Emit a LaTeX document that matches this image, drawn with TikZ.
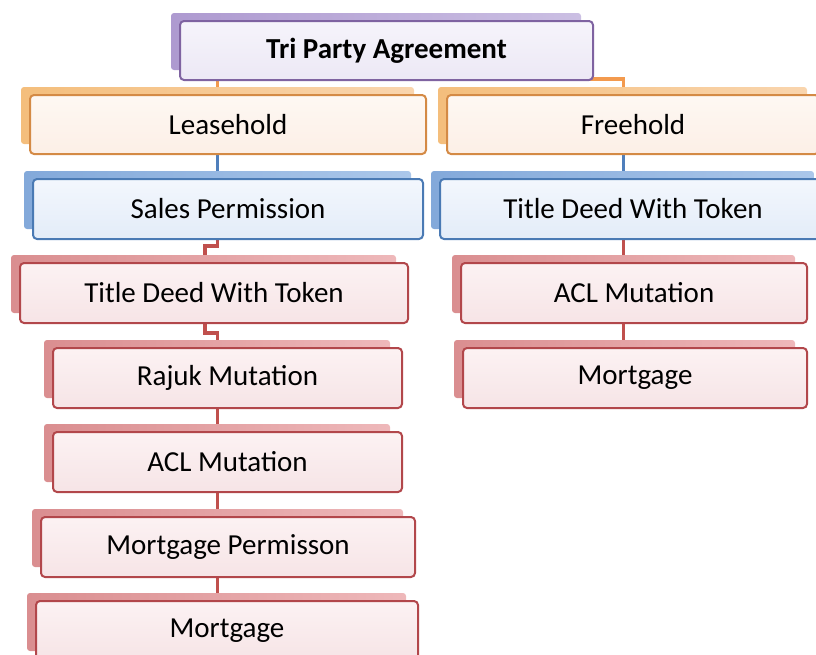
\documentclass[tikz,border=0pt]{standalone}
\usepackage{fontspec}
\setmainfont{Carlito}
\usetikzlibrary{calc}
\pgfdeclarelayer{lines}
\pgfdeclarelayer{back}
\pgfsetlayers{lines,back,main}
\definecolor{pBord}{HTML}{7F63A1}
\definecolor{pTop}{HTML}{F6F4FB}
\definecolor{pBot}{HTML}{ECE8F5}
\definecolor{pPanL}{HTML}{AE9AD0}
\definecolor{pPanR}{HTML}{CBBFE3}
\definecolor{oBord}{HTML}{D48A45}
\definecolor{oTop}{HTML}{FEF8F3}
\definecolor{oBot}{HTML}{FCEFE6}
\definecolor{oPanL}{HTML}{F4BE7C}
\definecolor{oPanR}{HTML}{F9D5AE}
\definecolor{bBord}{HTML}{4A7AB4}
\definecolor{bTop}{HTML}{F3F7FD}
\definecolor{bBot}{HTML}{E3ECF8}
\definecolor{bPanL}{HTML}{83A9DA}
\definecolor{bPanR}{HTML}{ABC7EA}
\definecolor{rBord}{HTML}{B2474B}
\definecolor{rTop}{HTML}{FCF2F3}
\definecolor{rBot}{HTML}{F6E4E6}
\definecolor{rPanL}{HTML}{DA8E90}
\definecolor{rPanR}{HTML}{EEB8BA}
\definecolor{oLine}{HTML}{F39A4E}
\definecolor{bLine}{HTML}{4F7FBC}
\definecolor{rLine}{HTML}{C0504D}
\tikzset{
  box/.style={rounded corners=4pt, line width=2pt, minimum height=59pt,
    inner sep=0pt, font=\fontsize{29}{34}\selectfont, text=black},
  pbox/.style={box, draw=pBord, top color=pTop, bottom color=pBot},
  obox/.style={box, draw=oBord, top color=oTop, bottom color=oBot},
  bbox/.style={box, draw=bBord, top color=bTop, bottom color=bBot},
  rbox/.style={box, draw=rBord, top color=rTop, bottom color=rBot},
  conn/.style={line width=3.6pt},
  oc/.style={conn, draw=oLine},
  bc/.style={conn, draw=bLine},
  rc/.style={conn, draw=rLine},
}
\newcommand\panelfor[2]{%
  \begin{pgfonlayer}{back}
  \shade[left color=#2PanL, right color=#2PanR, rounded corners=3pt]
    ($(#1.north west)+(-8,-7)$) rectangle ($(#1.south east)+(-13,-11)$);
  \end{pgfonlayer}}
\begin{document}
\begin{tikzpicture}[x=1pt,y=-1pt]
\useasboundingbox (0,0) rectangle (816,654);
\clip (0,0) rectangle (816,654);
% nodes
\node[pbox, minimum width=413pt] (top) at (386.5,50.5) {\bfseries Tri Party Agreement};
\node[obox, minimum width=396pt] (lease) at (228,124.5) {Leasehold};
\node[obox, minimum width=372pt] (free) at (633,124.5) {Freehold};
\node[bbox, minimum width=390pt, minimum height=60pt] (sales) at (228,209) {Sales Permission};
\node[bbox, minimum width=386pt, minimum height=60pt] (tdR) at (633,209) {Title Deed With Token};
\node[rbox, minimum width=388pt, minimum height=60pt] (tdL) at (214,293) {Title Deed With Token};
\node[rbox, minimum width=349pt, minimum height=60pt] (rajuk) at (227.5,378) {Rajuk Mutation};
\node[rbox, minimum width=349pt, minimum height=60pt] (aclL) at (227.5,462) {ACL Mutation};
\node[rbox, minimum width=374pt, minimum height=60pt] (mp) at (228,547) {Mortgage Permisson};
\node[rbox, minimum width=382pt, minimum height=60pt] (mortL) at (227,631) {Mortgage};
\node[rbox, minimum width=346pt, minimum height=60pt] (aclR) at (634,293) {ACL Mutation};
\node[rbox, minimum width=344pt, minimum height=60pt] (mortR) at (635,378) {Mortgage};
% panels
\panelfor{top}{p}
\panelfor{lease}{o}
\panelfor{free}{o}
\panelfor{sales}{b}
\panelfor{tdR}{b}
\panelfor{tdL}{r}
\panelfor{rajuk}{r}
\panelfor{aclL}{r}
\panelfor{mp}{r}
\panelfor{mortL}{r}
\panelfor{aclR}{r}
\panelfor{mortR}{r}
% connectors
\coordinate (lx) at (217.5,0);
\coordinate (ly) at (205,0);
\coordinate (rx) at (623.5,0);
\begin{pgfonlayer}{lines}
\draw[oc] (top.center) -- (top.center |- 0,79) -| ($(lease.north -| lx)+(0,-5)$);
\draw[oc] (top.center |- 0,79) -| ($(free.north -| rx)+(0,-5)$);
\draw[bc] (lease.center -| lx) -- (sales.north -| lx);
\draw[bc] (free.center -| rx) -- (tdR.north -| rx);
\draw[rc] (sales.center -| lx) -- (sales.south -| lx) -- ++(0,6) -| (tdL.north -| ly);
\draw[rc] (tdL.center -| ly) -- (tdL.south -| ly) -- ++(0,9) -| (rajuk.north -| lx);
\draw[rc] (rajuk.center -| lx) -- (aclL.north -| lx);
\draw[rc] (aclL.center -| lx) -- (mp.north -| lx);
\draw[rc] (mp.center -| lx) -- (mortL.north -| lx);
\draw[rc] (tdR.center -| rx) -- (aclR.north -| rx);
\draw[rc] (aclR.center -| rx) -- (mortR.north -| rx);
\end{pgfonlayer}
\end{tikzpicture}
\end{document}
